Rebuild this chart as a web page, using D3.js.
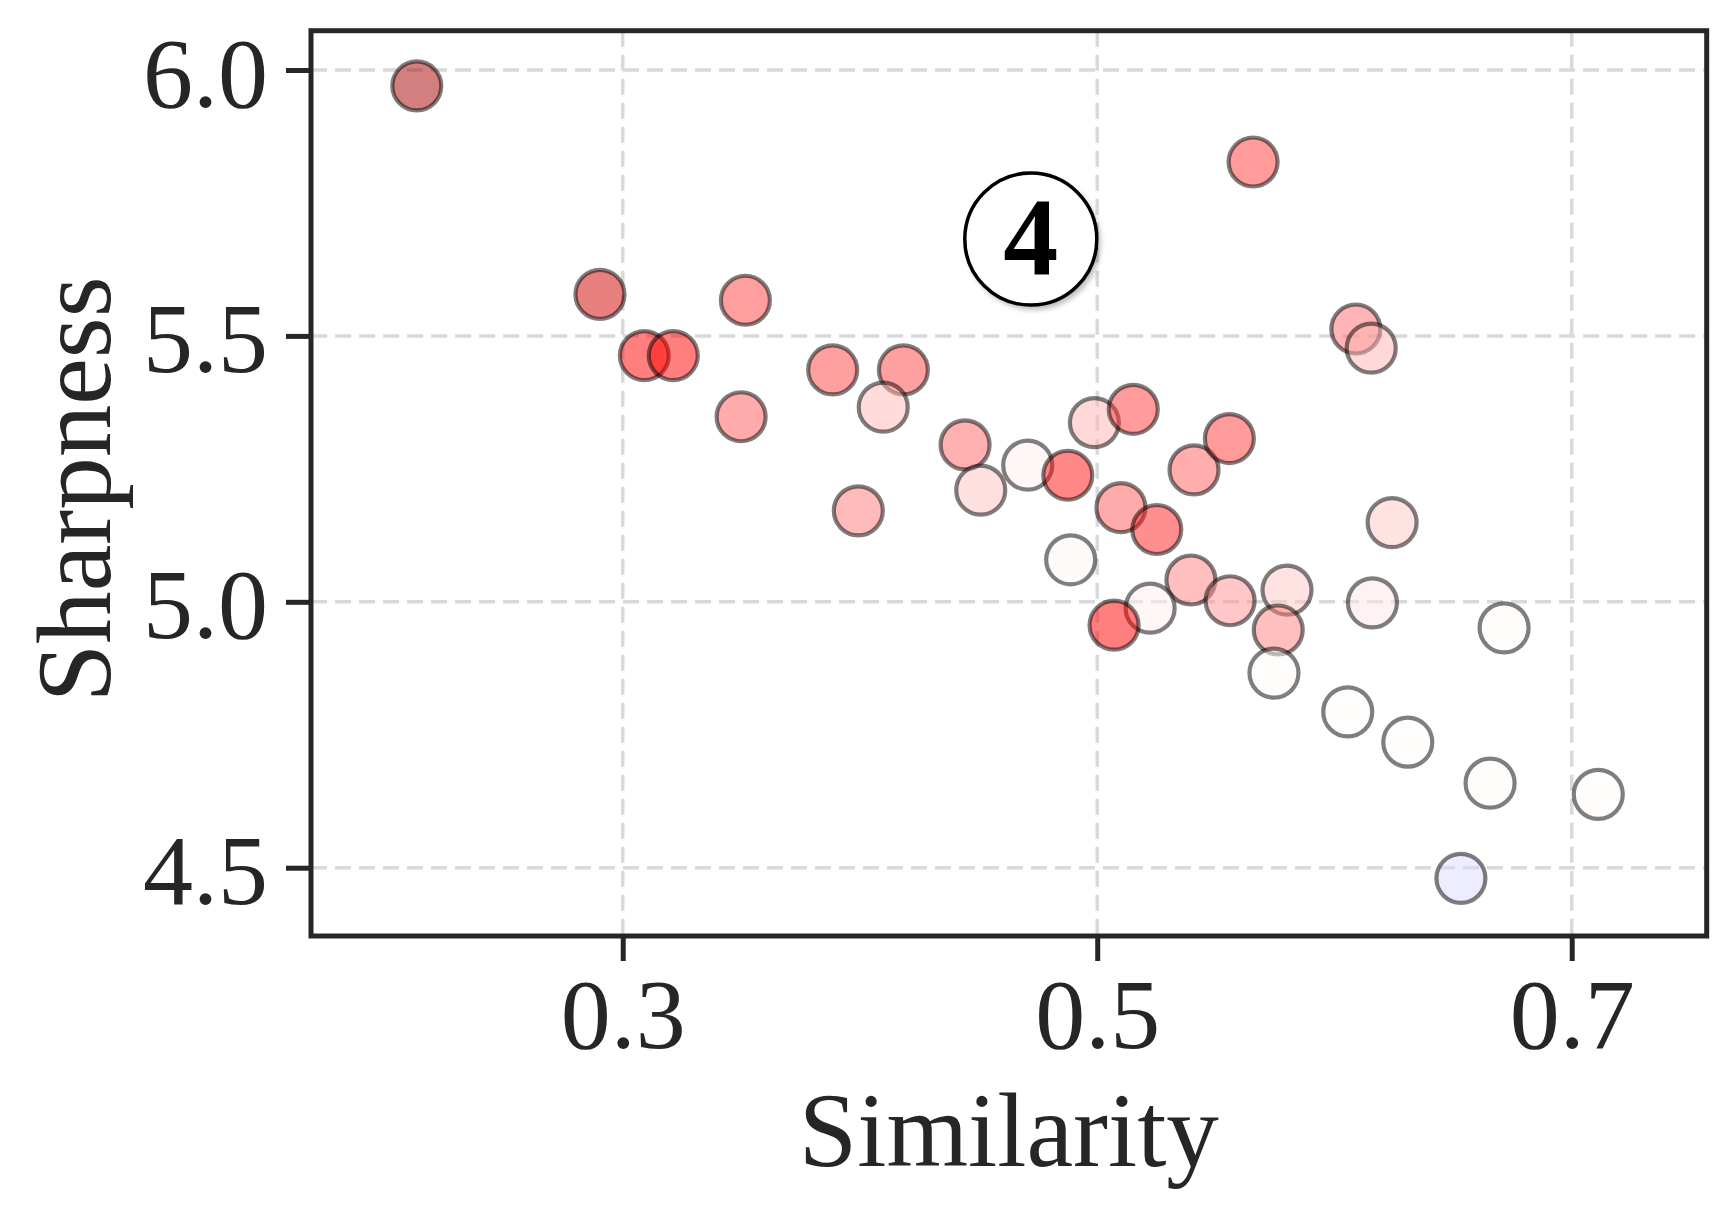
<!DOCTYPE html>
<html>
<head>
<meta charset="utf-8">
<script src="https://cdn.jsdelivr.net/npm/d3@7/dist/d3.min.js"></script>
<style>
  html, body { margin: 0; padding: 0; background: #ffffff; }
  svg { display: block; }
  text { font-family: "Liberation Serif", "DejaVu Serif", serif; fill: #262626; }
</style>
</head>
<body>
<svg id="chart" width="1735" height="1210"></svg>
<script>
// ---------------- data ----------------
const similarity = [
  0.2132, 0.2904, 0.3091, 0.3213, 0.3517, 0.3499, 0.3885, 0.4183, 0.4098, 0.3993,
  0.4443, 0.4509, 0.4707, 0.4876, 0.4888, 0.4988, 0.5152, 0.5100, 0.5251, 0.5408,
  0.5557, 0.5657, 0.6090, 0.6155, 0.6243, 0.5395, 0.5560, 0.5800, 0.5763, 0.5223,
  0.5071, 0.5745, 0.6160, 0.6715, 0.6056, 0.6309, 0.6656, 0.7112, 0.6533
];
const sharpness = [
  5.970, 5.578, 5.463, 5.463, 5.567, 5.348, 5.436, 5.436, 5.366, 5.171,
  5.295, 5.210, 5.257, 5.238, 5.079, 5.337, 5.362, 5.177, 5.136, 5.248,
  5.307, 5.827, 5.513, 5.477, 5.149, 5.041, 5.002, 5.022, 4.947, 4.988,
  4.956, 4.866, 4.998, 4.951, 4.793, 4.736, 4.659, 4.638, 4.480
];
// colour value (diverging: negative = blue, 0 = white, positive = red)
const colorValue = [
  0.85, 0.68, 0.50, 0.50, 0.38, 0.33, 0.37, 0.37, 0.14, 0.27,
  0.31, 0.12, 0.03, 0.47, 0.02, 0.15, 0.39, 0.33, 0.44, 0.32,
  0.39, 0.39, 0.29, 0.15, 0.11, 0.25, 0.22, 0.11, 0.25, 0.03,
  0.50, 0.01, 0.05, 0.01, 0.01, 0.01, 0.01, 0.01, -0.07
];
const xTicks = [0.3, 0.5, 0.7];
const yTicks = [4.5, 5.0, 5.5, 6.0];
const xTickLabels = ["0.3", "0.5", "0.7"];
const yTickLabels = ["4.5", "5.0", "5.5", "6.0"];
const xLabel = "Similarity";
const yLabel = "Sharpness";
const annotation = { text: "4", x: 0.472, y: 5.682 };

// ---------------- layout ----------------
const mLeft = 311, mRight = 1706.7, mTop = 30.7, mBottom = 936;
const svg = d3.select("#chart");

const x = d3.scaleLinear().domain([0.1686, 0.7569]).range([mLeft, mRight]);
const y = d3.scaleLinear().domain([4.3716, 6.0739]).range([mBottom, mTop]);
const color = d3.scaleLinear()
  .domain([-1, -0.5, 0, 0.5, 1])
  .range(["#00004d", "#0000ff", "#ffffff", "#ff0000", "#800000"])
  .clamp(true);

const points = similarity.map((s, i) => ({ x: s, y: sharpness[i], c: colorValue[i] }));

// defs: shadow filter
const defs = svg.append("defs");
const f = defs.append("filter").attr("id", "shadow").attr("x", "-30%").attr("y", "-30%").attr("width", "160%").attr("height", "160%");
f.append("feGaussianBlur").attr("stdDeviation", 2.5);

// grid
const grid = svg.append("g");
grid.selectAll("line.vg").data(xTicks).join("line")
  .attr("x1", d => x(d)).attr("x2", d => x(d))
  .attr("y1", mTop).attr("y2", mBottom)
  .attr("stroke", "#d9d9d9").attr("stroke-width", 3.5).attr("stroke-dasharray", "16,8");
grid.selectAll("line.hg").data(yTicks).join("line")
  .attr("x1", mLeft).attr("x2", mRight)
  .attr("y1", d => y(d)).attr("y2", d => y(d))
  .attr("stroke", "#d9d9d9").attr("stroke-width", 3.5).attr("stroke-dasharray", "16,8");

// points
svg.append("g").selectAll("circle").data(points).join("circle")
  .attr("cx", d => x(d.x)).attr("cy", d => y(d.y)).attr("r", 24.5)
  .attr("fill", d => color(d.c)).attr("fill-opacity", 0.5)
  .attr("stroke", "#000").attr("stroke-opacity", 0.5).attr("stroke-width", 4.2);

// annotation
const ax = x(annotation.x), ay = y(annotation.y);
svg.append("circle").attr("cx", ax + 3).attr("cy", ay + 4).attr("r", 67)
  .attr("fill", "#000").attr("fill-opacity", 0.25).attr("filter", "url(#shadow)");
svg.append("circle").attr("cx", ax).attr("cy", ay).attr("r", 66)
  .attr("fill", "#fff").attr("stroke", "#000").attr("stroke-width", 3.5);
svg.append("text").attr("x", ax).attr("y", ay + 35)
  .attr("text-anchor", "middle").attr("font-size", 110).attr("font-weight", "bold")
  .style("fill", "#000").text(annotation.text);

// axes with d3 axis generators
const xAxis = d3.axisBottom(x).tickValues(xTicks).tickFormat((d, i) => xTickLabels[i]).tickSize(25).tickPadding(18);
const yAxis = d3.axisLeft(y).tickValues(yTicks).tickFormat((d, i) => yTickLabels[i]).tickSize(25).tickPadding(22);

const gx = svg.append("g").attr("transform", `translate(0,${mBottom})`).call(xAxis);
const gy = svg.append("g").attr("transform", `translate(${mLeft},0)`).call(yAxis);
[gx, gy].forEach(g => {
  g.select(".domain").remove();
  g.selectAll(".tick line").attr("stroke", "#262626").attr("stroke-width", 5);
  g.selectAll(".tick text").attr("font-size", 100).attr("font-family", "Liberation Serif").style("fill", "#262626");
});
gx.selectAll(".tick text").attr("dy", null).attr("y", 112);
gy.selectAll(".tick text").attr("dy", null).attr("y", 36).attr("x", -43);

// spines
svg.append("rect").attr("x", mLeft).attr("y", mTop)
  .attr("width", mRight - mLeft).attr("height", mBottom - mTop)
  .attr("fill", "none").attr("stroke", "#262626").attr("stroke-width", 5);

// axis labels
svg.append("text").attr("x", (mLeft + mRight) / 2).attr("y", 1166)
  .attr("text-anchor", "middle").attr("font-size", 105).text(xLabel);
svg.append("text").attr("transform", `translate(110,${(mTop + mBottom) / 2 + 6}) rotate(-90)`)
  .attr("text-anchor", "middle").attr("font-size", 105).text(yLabel);
</script>
</body>
</html>
